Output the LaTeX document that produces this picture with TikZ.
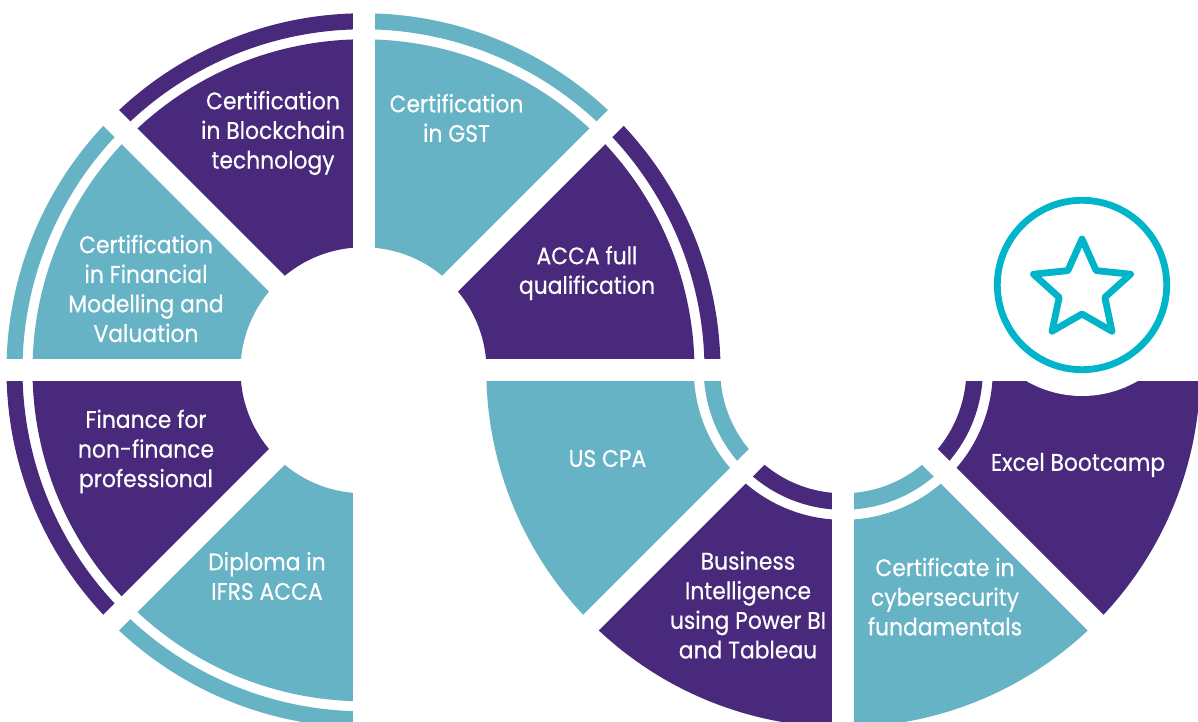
\documentclass[tikz,border=0pt]{standalone}
\usepackage{fontspec}
\setmainfont{Poppins}[FakeStretch=0.91, FakeBold=0.4]
\usetikzlibrary{calc}
\definecolor{ringpurple}{RGB}{72,41,124}
\definecolor{ringteal}{RGB}{103,179,198}
\definecolor{starcyan}{RGB}{0,181,201}
\begin{document}
\begin{tikzpicture}[x=0.5pt,y=0.5pt]
      \tikzset{gap/.style={white, line width=11pt},
               label/.style={text=white, align=center, font=\fontsize{12}{14.8}\selectfont},
               starline/.style={starcyan, line width=3.4pt, line join=round}}
      \useasboundingbox (0,0) rectangle (1198,722);
%% Centres
	\coordinate (L) at (363.5,351.7);
	\coordinate (R) at (843.3,351.7);
	\coordinate (S) at (1082,437);
%% Left ring, band outside
	\foreach \a/\col in {0/ringpurple,45/ringteal,90/ringpurple,135/ringteal,180/ringpurple,225/ringteal}{
		\fill[\col] ($(L)+(\a:331)$) arc[start angle=\a, end angle=\a+45, radius=331]
			-- ($(L)+(\a+45:123)$) arc[start angle=\a+45, end angle=\a, radius=123] -- cycle;
		\fill[\col] ($(L)+(\a:357)$) arc[start angle=\a, end angle=\a+45, radius=357]
			-- ($(L)+(\a+45:341)$) arc[start angle=\a+45, end angle=\a, radius=341] -- cycle;
	}
%% Right ring, band inside
	\foreach \a/\col in {180/ringteal,225/ringpurple,270/ringteal,315/ringpurple}{
		\fill[\col] ($(R)+(\a:357)$) arc[start angle=\a, end angle=\a+45, radius=357]
			-- ($(R)+(\a+45:149.5)$) arc[start angle=\a+45, end angle=\a, radius=149.5] -- cycle;
		\fill[\col] ($(R)+(\a:139.5)$) arc[start angle=\a, end angle=\a+45, radius=139.5]
			-- ($(R)+(\a+45:123)$) arc[start angle=\a+45, end angle=\a, radius=123] -- cycle;
	}
%% Gaps
	\foreach \a in {0,45,...,270} \draw[gap] (L) -- ++(\a:365);
	\foreach \a in {180,225,...,360} \draw[gap] (R) -- ++(\a:365);
%% Star badge
	\fill[white] (S) circle (111);
	\draw[starline] (S) circle (84.7);
	\draw[starline, shift={(1082,432)}] (90:51) -- (126:24) -- (162:51) -- (198:24) -- (234:51)
		-- (270:24) -- (306:51) -- (342:24) -- (18:51) -- (54:24) -- cycle;
%% Labels
	\node[label] (blockchain) at (273,589) {Certification\\in Blockchain\\technology};
	\node[label] (gst) at (456.5,604) {Certification\\in GST};
	\node[label] (acca) at (587,449) {ACCA full\\qualification};
	\node[label] (finmodel) at (146,433.5) {Certification\\in Financial\\Modelling and\\Valuation};
	\node[label] (nonfin) at (146,270.5) {Finance for\\non-finance\\professional};
	\node[label] (ifrs) at (267,146) {Diploma in\\IFRS ACCA};
	\node[label] (uscpa) at (607.5,263.5) {US CPA};
	\node[label] (bi) at (748,117) {Business\\Intelligence\\using Power BI\\and Tableau};
	\node[label] (cyber) at (945,125.3) {Certificate in\\cybersecurity\\fundamentals};
	\node[label] (excel) at (1078,257) {Excel Bootcamp};
\end{tikzpicture}
\end{document}
